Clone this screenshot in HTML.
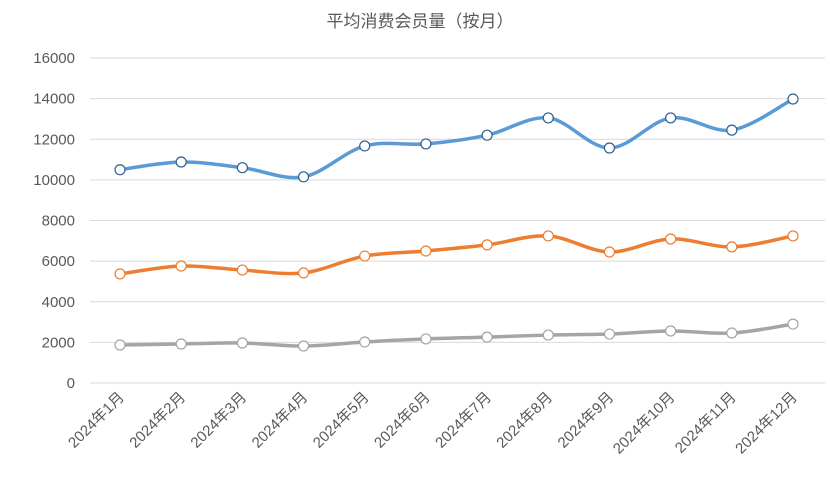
<!DOCTYPE html>
<html><head><meta charset="utf-8"><style>
body{margin:0;background:#fff;}
svg{display:block;font-family:"Liberation Sans","Noto Sans CJK SC",sans-serif;}
</style></head><body>
<svg id="chart" width="830" height="480">
<text x="420" y="27" text-anchor="middle" font-size="17" fill="#595959">平均消费会员量（按月）</text>
<g id="grid"></g><g id="ylabels"></g><g id="xlabels"></g><g id="series"></g>
</svg>
<script>
const categories=["2024年1月","2024年2月","2024年3月","2024年4月","2024年5月","2024年6月","2024年7月","2024年8月","2024年9月","2024年10月","2024年11月","2024年12月"];
const seriesBlue=[10500,10880,10600,10150,11670,11770,12200,13050,11570,13050,12450,13980];
const seriesOrange=[5370,5760,5560,5420,6250,6500,6800,7240,6450,7090,6700,7240];
const seriesGray=[1870,1920,1970,1820,2020,2170,2260,2360,2410,2560,2460,2900];
const yTicks=[0,2000,4000,6000,8000,10000,12000,14000,16000];
const NS="http://www.w3.org/2000/svg";
const x0=120,x1=793,y0=383,y1=58,yMax=16000;
const xs=i=>x0+(x1-x0)*i/(categories.length-1);
const ys=v=>y0-(y0-y1)*v/yMax;
function mk(t,a,p){const e=document.createElementNS(NS,t);for(const k in a)e.setAttribute(k,a[k]);p.appendChild(e);return e;}
const grid=document.getElementById('grid'),yl=document.getElementById('ylabels'),xl=document.getElementById('xlabels'),sg=document.getElementById('series');
yTicks.forEach(v=>{
 const l=mk('line',{x1:90,x2:825,y1:ys(v),y2:ys(v),stroke:'#d9d9d9','stroke-width':1},grid);
 
 
 const t=mk('text',{x:75,y:ys(v)+5,'text-anchor':'end','font-size':15,fill:'#595959'},yl);
 t.textContent=v;
 
 
});
categories.forEach((c,i)=>{
 const x=xs(i)+5,y=398;
 const t=mk('text',{x:x,y:y,'text-anchor':'end','font-size':15,fill:'#595959',transform:`rotate(-45 ${x} ${y})`},xl);
 t.textContent=c;
 
 
});
function path(vals){
 const p=vals.map((v,i)=>[xs(i),ys(v)]);let d=`M${p[0][0]},${p[0][1]}`;
 for(let i=0;i<p.length-1;i++){
  const a=p[i-1]||p[i],b=p[i],c=p[i+1],e=p[i+2]||c,k=1/6;
  d+=` C${b[0]+(c[0]-a[0])*k},${b[1]+(c[1]-a[1])*k} ${c[0]-(e[0]-b[0])*k},${c[1]-(e[1]-b[1])*k} ${c[0]},${c[1]}`;
 }
 return d;
}
[[seriesBlue,'#5b9bd5','series-blue'],[seriesOrange,'#ed7d31','series-orange'],[seriesGray,'#a5a5a5','series-gray']].forEach(([vals,col,nm])=>{
 const g=mk('g',{},sg);
 
 
 const l=mk('path',{d:path(vals),fill:'none',stroke:col,'stroke-width':3.5,'stroke-linecap':'round'},g);
 
 
 vals.forEach((v,i)=>{
  const c=mk('circle',{cx:xs(i),cy:ys(v),r:5,fill:'#fff',stroke:col==='#5b9bd5'?'#2f5f8f':col==='#ed7d31'?'#ed7d31':'#a5a5a5','stroke-width':1.2},g);
  
  
 });
});
</script>
</body></html>
